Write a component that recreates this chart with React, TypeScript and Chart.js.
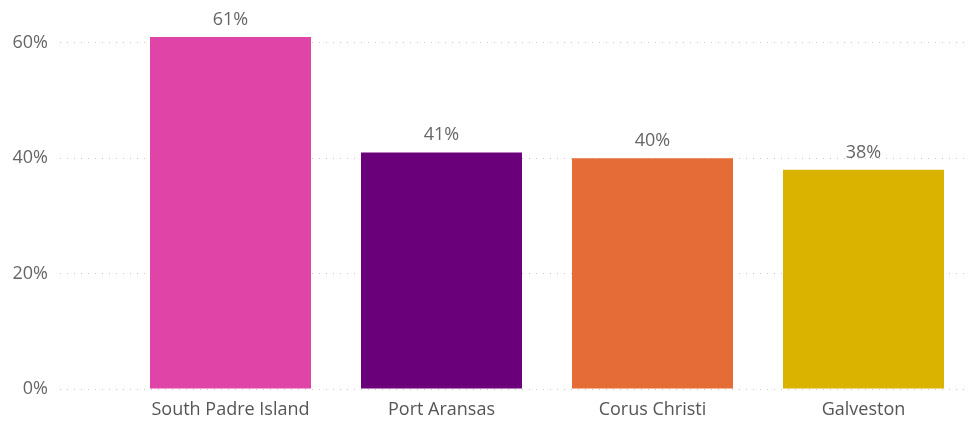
import React, { useEffect, useRef } from "react";
import { Chart, registerables } from "chart.js";

Chart.register(...registerables);

const categories = ["South Padre Island", "Port Aransas", "Corus Christi", "Galveston"];
const values = [0.61, 0.41, 0.40, 0.38];
const barColors = ["#E044A7", "#6B007B", "#E66C37", "#D9B300"];
const yTicks = [0, 0.2, 0.4, 0.6];

const FONT = "'Segoe UI', 'Open Sans', 'Noto Sans', sans-serif";

const dataLabelPlugin = {
  id: "dataLabels",
  afterDatasetsDraw(chart: any) {
    const ctx = chart.ctx;
    const meta = chart.getDatasetMeta(0);
    ctx.save();
    ctx.font = `18px ${FONT}`;
    ctx.fillStyle = "#666666";
    ctx.textAlign = "center";
    ctx.textBaseline = "alphabetic";
    meta.data.forEach((bar: any, i: number) => {
      ctx.fillText(Math.round(values[i] * 100) + "%", bar.x, bar.y - 12);
    });
    ctx.restore();
  },
};

export default function App() {
  const ref = useRef<HTMLCanvasElement | null>(null);
  useEffect(() => {
    document.body.style.margin = "0";
    const chart = new Chart(ref.current!, {
      type: "bar",
      data: {
        datasets: [
          {
            data: values.map((v, i) => ({ x: i, y: v })),
            backgroundColor: barColors,
            borderWidth: 0,
            barPercentage: 0.763,
            categoryPercentage: 1,
          },
        ],
      },
      options: {
        animation: false,
        responsive: false,
        layout: { padding: { top: 14, right: 9, left: 0, bottom: 0 } },
        plugins: { legend: { display: false }, tooltip: { enabled: false } },
        scales: {
          x: {
            type: "linear",
            min: -0.808,
            max: 3.5,
            offset: false,
            bounds: "data",
            grid: { display: false, offset: false },
            border: { display: false },
            afterBuildTicks: (scale: any) => {
              scale.ticks = categories.map((_, i) => ({ value: i }));
            },
            afterFit: (scale: any) => {
              scale.height = 33;
              scale.paddingLeft = 0;
              scale.paddingRight = 0;
            },
            ticks: {
              autoSkip: false,
              maxRotation: 0,
              padding: 2,
              color: "#555555",
              font: { family: FONT, size: 18 },
              callback: (v: any) => categories[Math.round(Number(v))] ?? "",
            },
          },
          y: {
            min: 0,
            max: 0.65,
            afterBuildTicks: (scale: any) => {
              scale.ticks = yTicks.map((v) => ({ value: v }));
            },
            afterFit: (scale: any) => {
              scale.width = 60;
              scale.paddingTop = 0;
              scale.paddingBottom = 0;
            },
            grid: {
              color: "#c8c8c8",
              lineWidth: 1,
              drawTicks: false,
            },
            border: { display: false, dash: [1, 6] },
            ticks: {
              padding: 12,
              color: "#666666",
              font: { family: FONT, size: 18 },
              callback: (v: any) => Math.round(Number(v) * 100) + "%",
            },
          },
        },
      },
      plugins: [dataLabelPlugin],
    } as any);
    return () => chart.destroy();
  }, []);
  return (
    <div style={{ width: 978, height: 422, background: "#fff" }}>
      <canvas ref={ref} width={978} height={422} style={{ display: "block" }} />
    </div>
  );
}
